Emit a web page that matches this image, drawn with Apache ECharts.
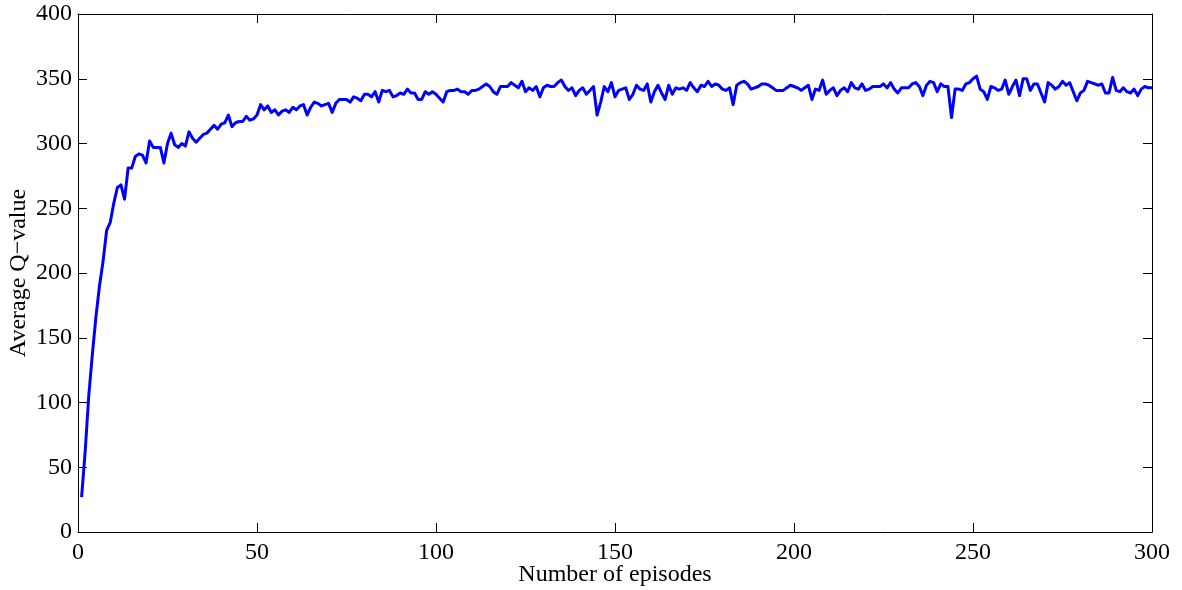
<!DOCTYPE html>
<html>
<head>
<meta charset="utf-8">
<script src="https://cdn.jsdelivr.net/npm/echarts@6/dist/echarts.min.js"></script>
<style>
  html, body { margin: 0; padding: 0; background: #fff; }
  #chart { width: 1182px; height: 590px; }
</style>
</head>
<body>
<div id="chart"></div>
<script>
// Average Q-value per training episode (episodes 1..300)
const episodes = Array.from({ length: 300 }, (_, k) => k + 1);
const avgQ = [
  27, 62, 105, 137, 166, 190, 209, 233, 239, 254,
  266, 268, 257, 281, 281, 290, 292, 291, 285, 302,
  297, 297, 297, 285, 300, 308, 299, 297, 300, 298,
  309, 304, 301, 304, 307, 308, 311, 314, 311, 315,
  316, 322, 313, 316, 317, 317, 321, 318, 319, 322,
  330, 326, 329, 324, 326, 322, 325, 326, 324, 328,
  326, 329, 330, 322, 328, 332, 331, 329, 330, 331,
  324, 331, 334, 334, 334, 332, 336, 335, 333, 338,
  338, 336, 340, 332, 341, 340, 341, 336, 337, 339,
  338, 342, 339, 339, 334, 334, 340, 338, 340, 338,
  335, 332, 340, 341, 341, 342, 340, 340, 338, 341,
  341, 342, 344, 346, 344, 340, 338, 344, 344, 344,
  347, 345, 343, 348, 340, 343, 341, 344, 336, 343,
  345, 344, 344, 347, 349, 344, 341, 343, 337, 341,
  343, 338, 341, 344, 322, 332, 344, 340, 347, 336,
  341, 342, 343, 334, 338, 345, 342, 341, 346, 332,
  340, 345, 339, 334, 345, 338, 343, 342, 343, 341,
  347, 343, 340, 345, 344, 348, 344, 346, 345, 342,
  341, 343, 330, 345, 347, 348, 346, 342, 343, 344,
  346, 346, 345, 343, 341, 341, 341, 343, 345, 344,
  343, 341, 343, 345, 334, 342, 341, 349, 338, 341,
  343, 337, 341, 343, 340, 347, 343, 342, 346, 341,
  342, 344, 344, 344, 346, 343, 347, 342, 339, 343,
  343, 343, 346, 347, 344, 337, 345, 348, 347, 340,
  346, 344, 344, 320, 342, 342, 341, 346, 347, 350,
  352, 342, 340, 334, 344, 343, 341, 342, 349, 338,
  344, 349, 337, 350, 350, 341, 346, 346, 339, 332,
  347, 345, 342, 344, 348, 345, 347, 340, 333, 339,
  341, 348, 347, 346, 345, 346, 339, 339, 351, 341,
  340, 343, 340, 339, 342, 337, 342, 344, 343, 343
];

const xTicks = { min: 0, max: 300, interval: 50 };
const yTicks = { min: 0, max: 400, interval: 50 };
const xTitle = 'Number of episodes';
const yTitle = 'Average Q\u2212value';

const FONT = '"Liberation Serif", "DejaVu Serif", serif';
const ink = '#000';

function frameAxis(extra) {
  return Object.assign({
    type: 'value',
    axisLine: { show: true, onZero: false, lineStyle: { color: ink, width: 1 } },
    axisTick: { show: true, inside: true, length: 9, lineStyle: { color: ink, width: 1 } },
    splitLine: { show: false },
    axisLabel: { show: false }
  }, extra);
}

const chart = echarts.init(document.getElementById('chart'), null, { renderer: 'canvas' });
chart.setOption({
  backgroundColor: '#fff',
  animation: false,
  grid: { left: 78, right: 30, top: 14, bottom: 58, containLabel: false, outerBoundsMode: 'none' },
  xAxis: [
    frameAxis(Object.assign({
      position: 'bottom',
      name: xTitle,
      nameLocation: 'middle',
      nameGap: 31,
      nameMoveOverlap: false,
      nameTextStyle: { fontFamily: FONT, fontSize: 24, color: ink },
      axisLabel: { show: true, margin: 9, fontFamily: FONT, fontSize: 24, color: ink }
    }, xTicks)),
    frameAxis(Object.assign({ position: 'top' }, xTicks))
  ],
  yAxis: [
    frameAxis(Object.assign({
      position: 'left',
      name: yTitle,
      nameLocation: 'middle',
      nameGap: 47,
      nameMoveOverlap: false,
      nameRotate: 90,
      nameTextStyle: { fontFamily: FONT, fontSize: 24, color: ink },
      axisLabel: { show: true, margin: 6, fontFamily: FONT, fontSize: 24, color: ink }
    }, yTicks)),
    frameAxis(Object.assign({ position: 'right' }, yTicks))
  ],
  series: [{
    type: 'line',
    data: episodes.map((e, k) => [e, avgQ[k]]),
    showSymbol: false,
    symbol: 'none',
    lineStyle: { color: '#0000ff', width: 3, join: 'round' },
    xAxisIndex: 0,
    yAxisIndex: 0
  }]
});
</script>
</body>
</html>
